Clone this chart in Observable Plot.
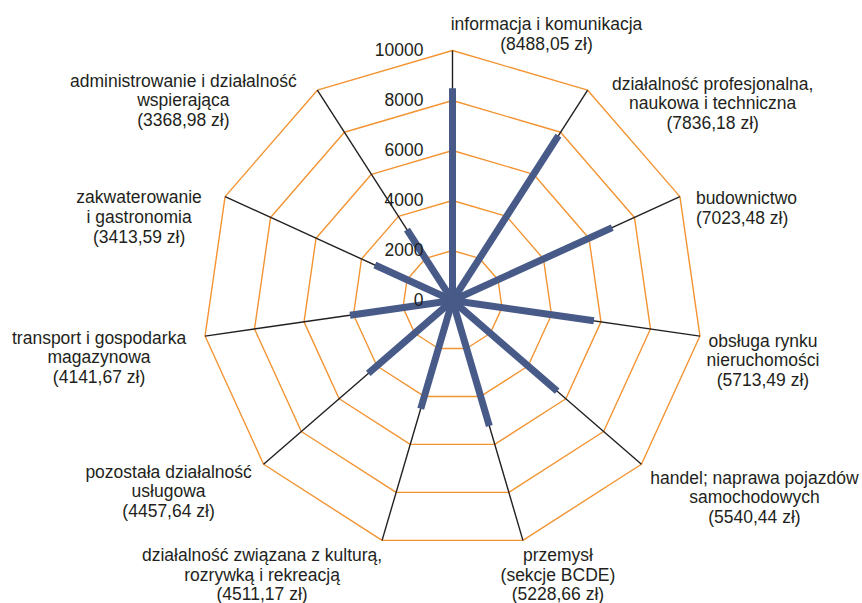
<!DOCTYPE html>
<html>
<head>
<meta charset="utf-8">
<script src="https://cdn.jsdelivr.net/npm/d3@7"></script>
<script src="https://cdn.jsdelivr.net/npm/@observablehq/plot@0.6"></script>
<style>
  html, body { margin: 0; padding: 0; background: #fff; }
  #chart svg { display: block; }
</style>
</head>
<body>
<div id="chart"></div>
<script>
// ---- data ----
const categories = [
  "informacja i komunikacja",
  "działalność profesjonalna,\nnaukowa i techniczna",
  "budownictwo",
  "obsługa rynku\nnieruchomości",
  "handel; naprawa pojazdów\nsamochodowych",
  "przemysł\n(sekcje BCDE)",
  "działalność związana z kulturą,\nrozrywką i rekreacją",
  "pozostała działalność\nusługowa",
  "transport i gospodarka\nmagazynowa",
  "zakwaterowanie\ni gastronomia",
  "administrowanie i działalność\nwspierająca"
];
const values = [8488.05, 7836.18, 7023.48, 5713.49, 5540.44, 5228.66, 4511.17, 4457.64, 4141.67, 3413.59, 3368.98];
const tickValues = [0, 2000, 4000, 6000, 8000, 10000];
const axisMax = 10000;

// ---- layout (pixel offsets of labels from each axis end) ----
const labelLayout = [
  {dx: 94, dy: -17, anchor: "middle"},
  {dx: 125, dy: 13, anchor: "middle"},
  {dx: 16, dy: 11, anchor: "start"},
  {dx: 63, dy: 24, anchor: "middle"},
  {dx: 113, dy: 33, anchor: "middle"},
  {dx: 35, dy: 34, anchor: "middle"},
  {dx: -120, dy: 34, anchor: "middle"},
  {dx: -95, dy: 27, anchor: "middle"},
  {dx: -106, dy: 21, anchor: "middle"},
  {dx: -86, dy: 20, anchor: "middle"},
  {dx: -134, dy: 10, anchor: "middle"}
];

const n = categories.length;
const ang = i => i * 2 * Math.PI / n;
const px = (i, r) => r * Math.sin(ang(i));
const py = (i, r) => r * Math.cos(ang(i));

const rings = [];
tickValues.filter(t => t > 0).forEach(t => {
  for (let i = 0; i <= n; i++) rings.push({level: t, x: px(i % n, t), y: py(i % n, t)});
});
const spokes = categories.map((c, i) => ({x: px(i, axisMax), y: py(i, axisMax)}));
const bars = values.map((v, i) => ({x: px(i, v), y: py(i, v)}));
const fmt = v => v.toFixed(2).replace(".", ",");
const labels = categories.map((c, i) => ({
  text: c + "\n(" + fmt(values[i]) + " zł)",
  x: px(i, axisMax), y: py(i, axisMax), ...labelLayout[i]
}));

const font = "'Liberation Sans', Arial, Helvetica, sans-serif";
const textColor = "#231f20";

const labelMarks = labels.map(l => Plot.text([l], {
  x: "x", y: "y", text: "text", dx: l.dx, dy: l.dy,
  textAnchor: l.anchor, lineAnchor: "middle", lineHeight: 1.12,
  fontSize: 17.5, fill: textColor
}));

const chart = Plot.plot({
  width: 862,
  height: 603,
  margin: 0,
  style: {fontFamily: font, background: "#fff"},
  x: {domain: [-18080, 16400], axis: null},
  y: {domain: [-12120, 12000], axis: null},
  marks: [
    Plot.line(rings, {x: "x", y: "y", z: "level", stroke: "#f39433", strokeWidth: 1.4}),
    Plot.link(spokes, {x1: 0, y1: 0, x2: "x", y2: "y", stroke: "#231f20", strokeWidth: 1.4}),
    Plot.link(bars, {x1: 0, y1: 0, x2: "x", y2: "y", stroke: "#475a88", strokeWidth: 7, strokeLinecap: "butt"}),
    Plot.text(tickValues, {x: 0, y: d => d, text: d => String(d), dx: -29, textAnchor: "end", fontSize: 17.5, fill: textColor}),
    ...labelMarks
  ]
});
document.getElementById("chart").appendChild(chart);
</script>
</body>
</html>
